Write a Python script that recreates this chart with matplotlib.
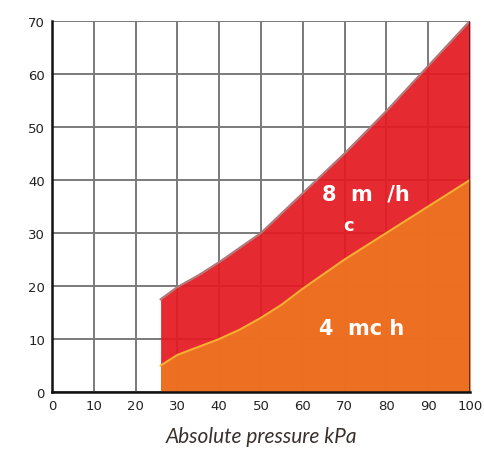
import matplotlib
matplotlib.use("Agg")
import matplotlib.pyplot as plt

# Data
x_upper = [26, 30, 35, 40, 50, 60, 70, 80, 90, 100]
y_upper = [17.5, 19.8, 22, 24.5, 30, 37.5, 45, 53, 61.5, 70]   # 8 m3/h
x_lower = [26, 30, 35, 40, 45, 50, 55, 60, 70, 80, 90, 100]
y_lower = [5, 7, 8.5, 10, 11.8, 14, 16.5, 19.5, 25, 30, 35, 40]  # 4 m3/h
x_ticks = [0, 10, 20, 30, 40, 50, 60, 70, 80, 90, 100]
y_ticks = [0, 10, 20, 30, 40, 50, 60, 70]
x_label = "Absolute pressure kPa"

fig = plt.figure(figsize=(4.85, 4.56), dpi=100)
ax = fig.add_axes([0.107, 0.138, 0.862, 0.814])

ax.set_xlim(0, 100)
ax.set_ylim(0, 70)
ax.set_xticks(x_ticks)
ax.set_yticks(y_ticks)
ax.grid(True, color="#7a7a7a", linewidth=1.4, zorder=0)
ax.set_axisbelow(True)

ax.fill_between(x_upper, 0, y_upper, color="#e51a22", alpha=0.93, linewidth=0, zorder=1)
ax.fill_between(x_lower, 0, y_lower, color="#ee7321", alpha=0.95, linewidth=0, zorder=2)
ax.plot(x_upper, y_upper, color="#b07878", linewidth=1.5, zorder=3)
ax.plot(x_lower, y_lower, color="#f5b030", linewidth=1.5, zorder=3)

ax.text(75, 37.5, "8  m  /h", color="white", fontsize=15, fontweight="bold",
        ha="center", va="center", zorder=4)
ax.text(71, 31.5, "c", color="white", fontsize=13, fontweight="bold",
        ha="center", va="center", zorder=4)
ax.text(74, 12, "4  mc h", color="white", fontsize=15, fontweight="bold",
        ha="center", va="center", zorder=4)

for s in ["top", "right"]:
    ax.spines[s].set_visible(False)
ax.axvline(100, color="#222222", linewidth=1.8, zorder=5)
for s in ["left", "bottom"]:
    ax.spines[s].set_color("#111111")
    ax.spines[s].set_linewidth(1.8)
    ax.spines[s].set_zorder(5)

ax.tick_params(length=0, labelsize=9.5, colors="#222222", pad=5)
ax.set_xlabel(x_label, fontsize=15, fontstyle="italic", family="Lato",
              color="#3a302c", labelpad=10)

fig.savefig("out.png", dpi=100)
